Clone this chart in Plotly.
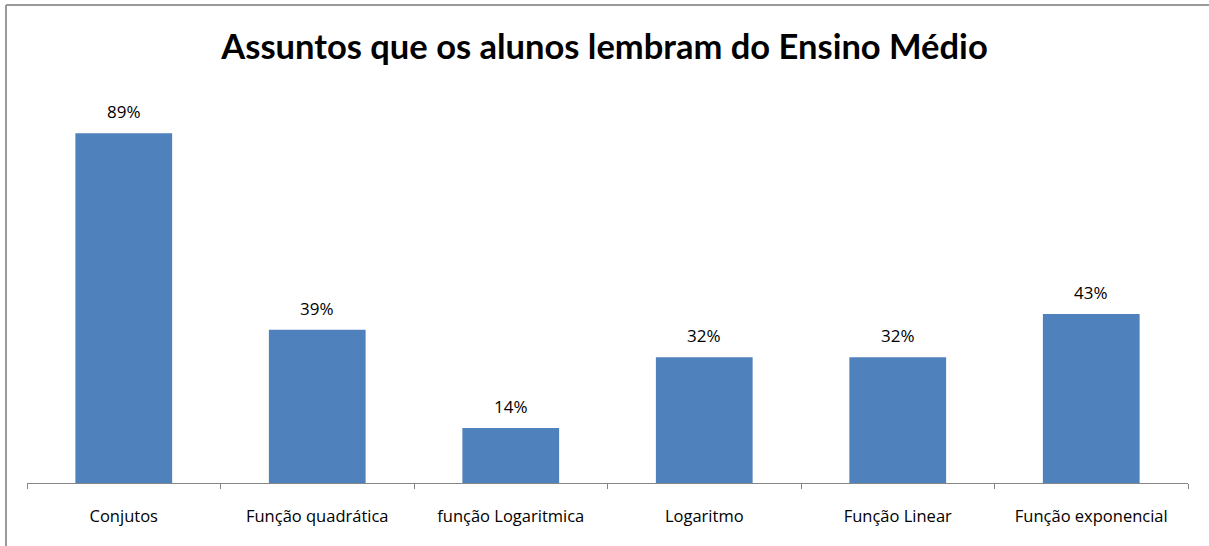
import plotly.graph_objects as go

categories = ["Conjutos", "Função quadrática", "função Logaritmica", "Logaritmo", "Função Linear", "Função exponencial"]
values = [89, 39, 14, 32, 32, 43]
labels = ["89%", "39%", "14%", "32%", "32%", "43%"]

FONT = "Open Sans, Lato, sans-serif"

fig = go.Figure(go.Bar(
    x=categories, y=values,
    marker=dict(color="#4F81BD", line=dict(width=0)),
    width=0.5, hoverinfo="x+y",
))

annotations = [dict(x=c, y=v, text=t, showarrow=False, yanchor="bottom", yshift=8,
                    font=dict(family=FONT, size=17, color="#000000"))
               for c, v, t in zip(categories, values, labels)]

W, H = 1209, 546
L, R, T, B = 27, 21, 90, 63
PW, PH = W - L - R, H - T - B

bx0 = (6 - L) / PW
by1 = (H - B - 5) / PH
border = dict(color="#9A9A9A", width=2)

fig.update_layout(
    width=W, height=H,
    margin=dict(l=L, r=R, t=T, b=B),
    paper_bgcolor="white", plot_bgcolor="white",
    showlegend=False,
    annotations=annotations,
    title=dict(text="<b>Assuntos que os alunos lembram do Ensino Médio</b>",
               x=0.5, xanchor="center", y=1 - 47/H, yanchor="middle",
               font=dict(family="Lato, Open Sans, sans-serif", size=34.5, color="#000000")),
    xaxis=dict(showline=True, linecolor="#868686", linewidth=1,
               ticks="outside", tickson="boundaries", ticklen=5, tickcolor="#868686",
               ticklabelstandoff=18,
               tickfont=dict(family=FONT, size=16.5, color="#000000"),
               showgrid=False, zeroline=False),
    yaxis=dict(range=[0, 100], visible=False, showgrid=False, zeroline=False),
    shapes=[
        dict(type="line", xref="paper", yref="paper", x0=bx0, x1=1 + 30 / PW, y0=by1, y1=by1, line=border),
        dict(type="line", xref="paper", yref="paper", x0=bx0, x1=bx0, y0=by1, y1=-70 / PH, line=border),
    ],
)

fig.write_html("out.html", config={"displayModeBar": False},
               post_script="document.body.style.margin='0';document.body.style.padding='0';"
                           "document.body.style.overflow='hidden';"
                           "document.documentElement.style.overflow='hidden';")
